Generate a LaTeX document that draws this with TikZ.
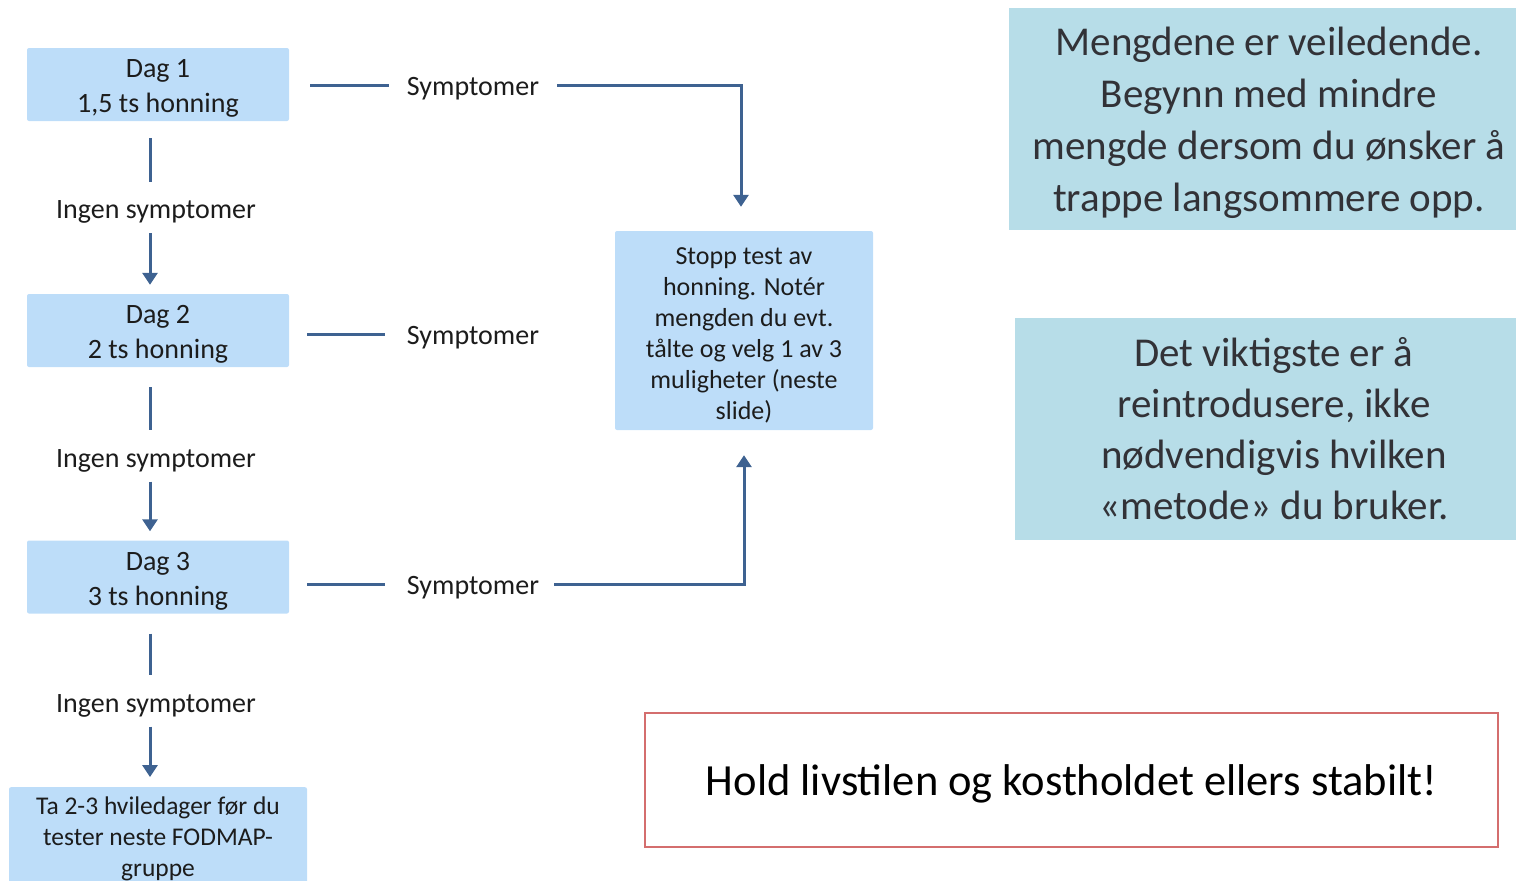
\documentclass[tikz,border=0pt]{standalone}
\usepackage{fontspec}
\setmainfont{Carlito}
\usetikzlibrary{arrows.meta}
\definecolor{boxblue}{RGB}{189,221,249}
\definecolor{boxteal}{RGB}{183,221,232}
\definecolor{lineblue}{RGB}{62,98,145}
\definecolor{redline}{RGB}{212,110,110}
\definecolor{txt}{RGB}{28,28,28}
\definecolor{txtgray}{RGB}{50,50,55}
\newcommand\topstrut[1]{\rule{0pt}{#1}}
\begin{document}
\begin{tikzpicture}[x=1pt,y=-1pt,
  daybox/.style={fill=boxblue, rounded corners=2pt, minimum width=262pt, minimum height=73pt,
    inner sep=0pt, align=center, text=txt, font=\fontsize{28}{35}\selectfont},
  lbl/.style={inner sep=0pt, text=txt, font=\fontsize{28}{35}\selectfont},
  ingen/.style={lbl, minimum height=51pt, text height=22pt, text depth=0pt},
  symp/.style={lbl, inner xsep=18pt, minimum height=30pt, text height=21.5pt, text depth=0pt},
  tealbox/.style={fill=boxteal, inner sep=0pt, align=center, text=txtgray},
  conn/.style={draw=lineblue, line width=3pt},
  arr/.style={conn, -{Triangle[width=15pt,length=12pt]}},
]
\useasboundingbox (0,0) rectangle (1516,881);
\clip (0,0) rectangle (1516,881);

% left column
\node[daybox] (d1) at (158,84.5) {\topstrut{26pt}Dag 1\\1,5 ts honning};
\node[daybox] (d2) at (158,330.5) {\topstrut{26pt}Dag 2\\2 ts honning};
\node[daybox] (d3) at (158,577) {\topstrut{26pt}Dag 3\\3 ts honning};
\node[daybox, anchor=north, minimum width=298pt, minimum height=0pt, inner ysep=10pt,
      font=\fontsize{25.5}{31}\selectfont] (rest) at (158,787)
  {Ta 2-3 hviledager før du\\tester neste FODMAP-\\gruppe};

\node[ingen] (i1) at (156,207.5) {Ingen symptomer};
\node[ingen] (i2) at (156,456) {Ingen symptomer};
\node[ingen] (i3) at (156,701) {Ingen symptomer};

\draw[conn, shorten <=17pt] (d1.south -| 150,0) -- (i1.north -| 150,0);
\draw[arr, shorten >=9pt] (i1.south -| 150,0) -- (d2.north -| 150,0);
\draw[conn, shorten <=20pt] (d2.south -| 150,0) -- (i2.north -| 150,0);
\draw[arr, shorten >=9pt] (i2.south -| 150,0) -- (d3.north -| 150,0);
\draw[conn, shorten <=20pt] (d3.south -| 150,0) -- (i3.north -| 150,0);
\draw[arr, shorten >=10pt] (i3.south -| 150,0) -- (rest.north -| 150,0);

% symptom labels
\node[symp] (s1) at (473,85) {Symptomer};
\node[symp] (s2) at (473,334) {Symptomer};
\node[symp] (s3) at (473,584) {Symptomer};

% stop box
\node[daybox, minimum width=258pt, minimum height=199pt, font=\fontsize{26}{31}\selectfont] (stop) at (744,330.5)
  {\topstrut{26pt}Stopp test av\\honning. Notér\\mengden du evt.\\tålte og velg 1 av 3\\muligheter (neste\\slide)};

\draw[conn, shorten <=21pt] (d1.east |- s1) -- (s1.west);
\draw[conn, shorten <=18pt, shorten >=4pt] (d2.east |- s2) -- (s2.west);
\draw[conn, shorten <=18pt, shorten >=4pt] (d3.east |- s3) -- (s3.west);

\draw[arr, shorten >=24pt] (s1.east) -- (741,85) -- ([xshift=-3pt]stop.north);
\draw[arr, shorten >=25pt] ([xshift=-3pt]s3.east) -- (744,584) -- (stop.south);

% right info boxes
\node[tealbox, minimum width=520pt, minimum height=222pt, font=\fontsize{41}{52}\selectfont] (info1) at (1269,119)
  {\topstrut{36.5pt}Mengdene er veiledende.\\Begynn med mindre\\mengde dersom du ønsker å\\trappe langsommere opp.};
\node[tealbox, minimum width=518pt, minimum height=222pt, font=\fontsize{41}{51}\selectfont] (info2) at (1274,429)
  {Det viktigste er å\\reintrodusere, ikke\\nødvendigvis hvilken\\«metode» du bruker.};

% red note box
\node[draw=redline, line width=1.5pt, minimum width=853pt, minimum height=134pt, inner sep=0pt,
      text height=31pt, text depth=0pt,
      font=\fontsize{44.5}{52}\selectfont, text=black] (note) at (1071.5,780)
  {Hold livstilen og kostholdet ellers stabilt!};
\end{tikzpicture}
\end{document}
